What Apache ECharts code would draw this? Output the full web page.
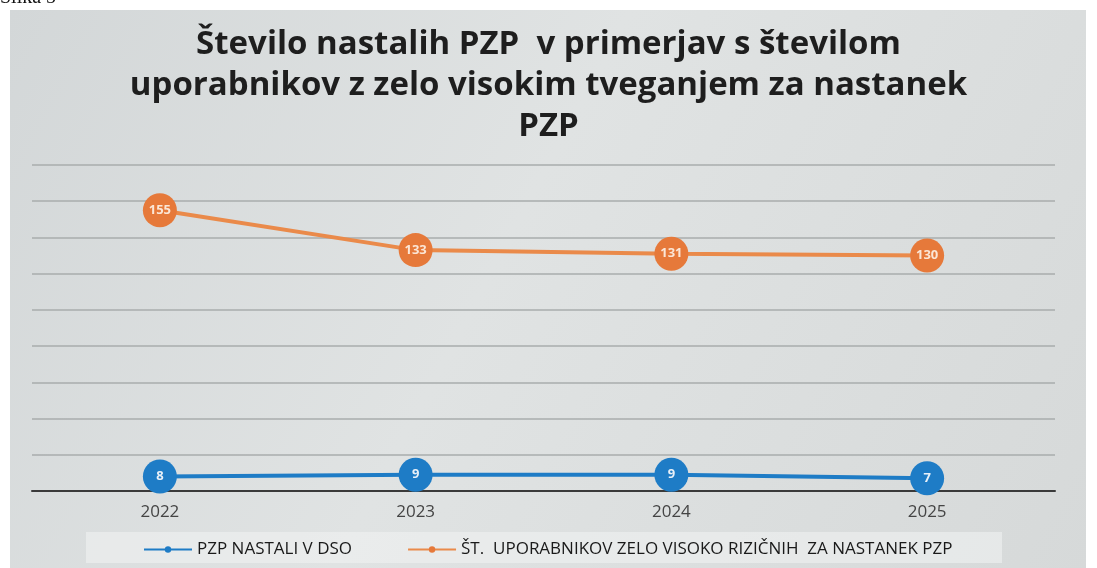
<!DOCTYPE html>
<html>
<head>
<meta charset="utf-8">
<script src="https://cdn.jsdelivr.net/npm/echarts@6/dist/echarts.min.js"></script>
<style>
html, body { margin: 0; padding: 0; background: #fff; }
#chart { width: 1097px; height: 568px; }
</style>
</head>
<body>
<div id="chart"></div>
<script>
const years = ['2022', '2023', '2024', '2025']
const pzpNastali = [8, 9, 9, 7]
const uporabnikiVisokoTveganje = [155, 133, 131, 130]
const titleText = 'Število nastalih PZP  v primerjav s številom\nuporabnikov z zelo visokim tveganjem za nastanek\nPZP'

const chart = echarts.init(document.getElementById('chart'))

chart.setOption({
    backgroundColor: '#fff',
    textStyle: { fontFamily: '"Open Sans", sans-serif' },
    title: {
        text: titleText,
        left: 'center',
        top: 19,
        textStyle: {
            fontSize: 33,
            fontWeight: 'bold',
            color: '#1e1e1e',
            lineHeight: 41,
            fontFamily: '"Open Sans", sans-serif'
        }
    },
    graphic: [
        {
            type: 'rect',
            z: -10,
            shape: { x: 10, y: 10, width: 1076, height: 570 },
            style: {
                fill: new echarts.graphic.LinearGradient(0, 0, 1, 1, [
                    { offset: 0, color: '#d3d7d8' },
                    { offset: 0.45, color: '#e0e3e3' },
                    { offset: 1, color: '#d6d9d9' }
                ])
            }
        },
        {
            type: 'rect',
            z: -9,
            shape: { x: 86, y: 532, width: 916, height: 31 },
            style: { fill: 'rgba(240,241,241,0.6)' }
        },
        {
            type: 'text',
            left: 0,
            top: -12,
            style: {
                text: 'Slika 5',
                fontSize: 20,
                fontFamily: '"Liberation Serif", serif',
                fill: '#111'
            }
        }
    ],
    legend: {
        bottom: 5,
        left: 138,
        itemGap: 55,
        itemWidth: 48,
        itemHeight: 8,
        textStyle: { fontSize: 17, color: '#1a1a1a' },
        data: ['PZP NASTALI V DSO', 'ŠT.  UPORABNIKOV ZELO VISOKO RIZIČNIH  ZA NASTANEK PZP']
    },
    grid: {
        left: 32,
        right: 42,
        top: 165,
        bottom: 77
    },
    xAxis: {
        type: 'category',
        data: years,
        boundaryGap: true,
        axisLine: { lineStyle: { color: '#3a3a3a', width: 2 } },
        axisTick: { show: false },
        axisLabel: { fontSize: 17, color: '#444', margin: 13 }
    },
    yAxis: {
        type: 'value',
        min: 0,
        max: 180,
        interval: 20,
        axisLabel: { show: false },
        axisLine: { show: false },
        axisTick: { show: false },
        splitLine: { lineStyle: { color: '#a9acad', width: 1.5 } }
    },
    series: [
        {
            name: 'PZP NASTALI V DSO',
            type: 'line',
            data: pzpNastali,
            symbol: 'circle',
            symbolSize: 34,
            color: '#1e7cc6',
            lineStyle: { width: 4, color: '#1e7cc6' },
            label: {
                show: true,
                position: 'inside',
                color: '#e8f0f8',
                fontSize: 13,
                fontWeight: 'bold'
            }
        },
        {
            name: 'ŠT.  UPORABNIKOV ZELO VISOKO RIZIČNIH  ZA NASTANEK PZP',
            type: 'line',
            data: uporabnikiVisokoTveganje,
            symbol: 'circle',
            symbolSize: 34,
            color: '#e6793a',
            lineStyle: { width: 4, color: '#ea8a4a' },
            label: {
                show: true,
                position: 'inside',
                color: '#fbe6d6',
                fontSize: 13,
                fontWeight: 'bold'
            }
        }
    ]
})

window.addEventListener('resize', () => {
    chart.resize()
})
</script>
</body>
</html>
